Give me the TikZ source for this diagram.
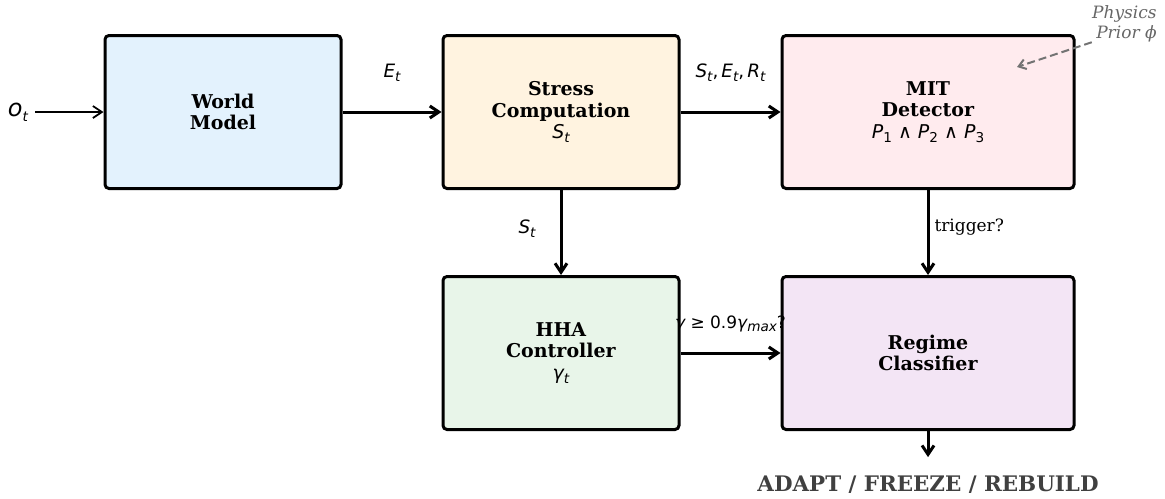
\documentclass[tikz,border=0pt]{standalone}
\usepackage{fontspec}
\setmainfont{DejaVu Serif}
\newfontfamily\symfont{DejaVu Sans}
\usetikzlibrary{positioning,arrows.meta}

\definecolor{wmblue}{HTML}{E3F2FD}
\definecolor{stressorange}{HTML}{FFF3E0}
\definecolor{mitred}{HTML}{FFEBEE}
\definecolor{hhagreen}{HTML}{E8F5E9}
\definecolor{regimepurple}{HTML}{F3E5F5}

% italic sans symbol with a lowered subscript
\newcommand{\vsub}[2]{{\symfont\itshape #1\raisebox{-0.2em}{\fontsize{6.8}{7}\selectfont #2}}}

\begin{document}
\begin{tikzpicture}[
        x=0.5pt, y=-0.5pt,
        node distance=42.5pt and 49.5pt,
        font=\fontsize{9.5}{10.9}\selectfont,
        block/.style={draw, line width=1.5pt, rounded corners=2pt, minimum width=118pt, minimum height=76.5pt, align=center},
        wideblock/.style={block, minimum width=146pt},
        arrow/.style={-{Straight Barb[length=4.5pt,width=6pt]}, line width=1.5pt},
        lbl/.style={font=\fontsize{8.5}{10}\selectfont},
        mathlbl/.style={font=\fontsize{9.2}{10}\selectfont},
    ]
    \useasboundingbox (0,0) rectangle (1165,498);

    % Top row
    \node[block, fill=wmblue] (world) at (223,112) {\textbf{World}\\\textbf{Model}};
    \node[block, fill=stressorange, right=of world] (stress) {\textbf{Stress}\\\textbf{Computation}\\\vsub{S}{t}};
    \node[wideblock, fill=mitred, right=50pt of stress] (mit) {\textbf{MIT}\\\textbf{Detector}\\{\symfont\vsub{P}{\upshape 1} ∧ \vsub{P}{\upshape 2} ∧ \vsub{P}{\upshape 3}}};

    % Bottom row
    \node[block, fill=hhagreen, below=of stress] (hha) {\textbf{HHA}\\\textbf{Controller}\\\vsub{γ}{t}};
    \node[wideblock, fill=regimepurple, below=of mit] (regime) {\textbf{Regime}\\\textbf{Classifier}};

    % Input and output
    \node[font=\fontsize{12}{12}\selectfont] (obs) at (18,112) {\vsub{o}{t}};
    \node[font=\fontsize{10.7}{12}\selectfont\bfseries, text=black!75] (actions) at (928,485) {ADAPT / FREEZE / REBUILD};
    \node[lbl, text=black!60, align=right, inner sep=0pt, anchor=north east] (prior) at (1157,5) {\itshape Physics\\\itshape Prior ϕ};
    \coordinate (priorpt) at (1017,67);

    % Connections
    \draw[arrow, line width=0.9pt] (obs) -- (world);
    \draw[arrow] (world) -- node[mathlbl, midway, yshift=19.5pt] {\vsub{E}{t}} (stress);
    \draw[arrow] (stress) -- node[mathlbl, midway, yshift=19.5pt] {\vsub{S}{t}{\symfont,\,}\vsub{E}{t}{\symfont,\,}\vsub{R}{t}} (mit);
    \draw[arrow] (stress) -- node[mathlbl, midway, xshift=-17pt, yshift=2pt] {\vsub{S}{t}} (hha);
    \draw[arrow] (mit) -- node[lbl, midway, anchor=west, inner sep=0pt, xshift=2.5pt, yshift=2.5pt] {trigger?} (regime);
    \draw[arrow] (hha) -- node[lbl, midway, yshift=14.5pt] {\symfont{\itshape γ} ≥ 0.9\vsub{γ}{max}?} (regime);
    \draw[arrow, shorten >=6pt] (regime) -- (actions);
    \draw[-{Straight Barb[length=3.5pt,width=5pt]}, line width=1pt, dash pattern=on 4pt off 2pt, black!55] (prior.south west) -- (priorpt);

\end{tikzpicture}
\end{document}
